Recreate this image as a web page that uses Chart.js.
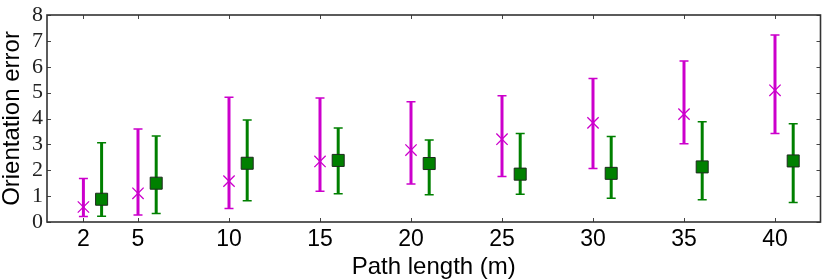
<!DOCTYPE html>
<html><head><meta charset="utf-8">
<script src="https://cdn.jsdelivr.net/npm/chart.js@4"></script>
<style>html,body{margin:0;padding:0;background:#fff}</style>
</head><body><canvas id="c" width="830" height="280"></canvas>
<script>
const pathLengths = [2, 5, 10, 15, 20, 25, 30, 35, 40];
const xTickLabels = [2, 5, 10, 15, 20, 25, 30, 35, 40];
const yTickValues = [0, 1, 2, 3, 4, 5, 6, 7, 8];
const magentaMean = [0.58, 1.11, 1.58, 2.34, 2.78, 3.20, 3.83, 4.17, 5.09];
const magentaLow  = [0.21, 0.27, 0.52, 1.19, 1.47, 1.76, 2.07, 3.02, 3.42];
const magentaHigh = [1.68, 3.59, 4.82, 4.79, 4.65, 4.88, 5.55, 6.22, 7.23];
const greenMean = [0.88, 1.50, 2.27, 2.38, 2.26, 1.85, 1.88, 2.13, 2.36];
const greenLow  = [0.22, 0.33, 0.82, 1.09, 1.05, 1.07, 0.92, 0.86, 0.75];
const greenHigh = [3.06, 3.32, 3.94, 3.63, 3.17, 3.42, 3.30, 3.87, 3.80];
const greenOffset = 1;

const MAGENTA = '#cc00cc';
const GREEN = '#008000';

const errorBarPlugin = {
  id: 'errorBars',
  beforeDatasetsDraw(chart) {
    const ctx = chart.ctx;
    const xs = chart.scales.x, ys = chart.scales.y;
    const area = chart.chartArea;
    ctx.save();
    ctx.strokeStyle = '#444';
    ctx.lineWidth = 1;
    const tl = 4;
    xTickLabels.forEach(v => {
      const px = Math.round(xs.getPixelForValue(v)) + 0.5;
      ctx.beginPath();
      ctx.moveTo(px, area.top); ctx.lineTo(px, area.top + tl);
      ctx.moveTo(px, area.bottom); ctx.lineTo(px, area.bottom - tl);
      ctx.stroke();
    });
    yTickValues.forEach(v => {
      const py = Math.round(ys.getPixelForValue(v)) + 0.5;
      ctx.beginPath();
      ctx.moveTo(area.left, py); ctx.lineTo(area.left + tl, py);
      ctx.moveTo(area.right, py); ctx.lineTo(area.right - tl, py);
      ctx.stroke();
    });
    chart.data.datasets.forEach(ds => {
      ctx.strokeStyle = ds.barColor;
      ds.data.forEach((p, i) => {
        const px = xs.getPixelForValue(p.x);
        const lo = ys.getPixelForValue(ds.low[i]);
        const hi = ys.getPixelForValue(ds.high[i]);
        ctx.lineWidth = 3;
        ctx.beginPath();
        ctx.moveTo(px, lo); ctx.lineTo(px, hi);
        ctx.stroke();
        ctx.lineWidth = 1.5;
        ctx.beginPath();
        ctx.moveTo(px - 4.5, lo); ctx.lineTo(px + 4.5, lo);
        ctx.moveTo(px - 4.5, hi); ctx.lineTo(px + 4.5, hi);
        ctx.stroke();
      });
    });
    ctx.restore();
  },
  afterDraw(chart) {
    const ctx = chart.ctx;
    const a = chart.chartArea;
    ctx.save();
    ctx.strokeStyle = '#333';
    ctx.lineWidth = 1.6;
    ctx.strokeRect(a.left, a.top, a.right - a.left, a.bottom - a.top);
    ctx.restore();
  }
};

new Chart(document.getElementById('c'), {
  type: 'scatter',
  data: {
    datasets: [
      {
        label: 'magenta',
        data: pathLengths.map((x, i) => ({ x: x, y: magentaMean[i] })),
        low: magentaLow, high: magentaHigh, barColor: MAGENTA,
        pointStyle: 'crossRot', pointRadius: 8, pointBorderWidth: 1.3,
        borderColor: MAGENTA, backgroundColor: MAGENTA
      },
      {
        label: 'green',
        data: pathLengths.map((x, i) => ({ x: x + greenOffset, y: greenMean[i] })),
        low: greenLow, high: greenHigh, barColor: GREEN,
        pointStyle: 'rect', pointRadius: 8.5, pointBorderWidth: 1,
        borderColor: '#1e2a1e', backgroundColor: GREEN
      }
    ]
  },
  options: {
    responsive: false,
    animation: false,
    devicePixelRatio: 1,
    layout: { padding: { top: 11, right: 2, left: 0, bottom: 0 } },
    plugins: { legend: { display: false }, tooltip: { enabled: false } },
    scales: {
      x: {
        type: 'linear', min: 0, max: 42.5,
        afterBuildTicks: s => { s.ticks = xTickLabels.map(v => ({ value: v })); },
        afterFit: s => { s.height = 58; },
        grid: { display: false, drawTicks: false },
        border: { display: false },
        ticks: { font: { family: 'Liberation Sans', size: 23, lineHeight: 1 }, color: '#000', padding: 6, maxRotation: 0, autoSkip: false },
        title: { display: true, text: 'Path length (m)', font: { family: 'Liberation Sans', size: 24, lineHeight: 1 }, color: '#000', padding: { top: 0, bottom: 1 } }
      },
      y: {
        type: 'linear', min: 0, max: 8,
        afterBuildTicks: s => { s.ticks = yTickValues.map(v => ({ value: v })); },
        afterFit: s => { s.width = 47; },
        grid: { display: false, drawTicks: false },
        border: { display: false },
        ticks: { font: { family: 'Liberation Serif', size: 22, lineHeight: 1 }, color: '#222', padding: 4 },
        title: { display: true, text: 'Orientation error', font: { family: 'Liberation Sans', size: 24, lineHeight: 1 }, color: '#000', padding: { top: 0, bottom: 0 } }
      }
    }
  },
  plugins: [errorBarPlugin]
});
</script>
</body></html>
